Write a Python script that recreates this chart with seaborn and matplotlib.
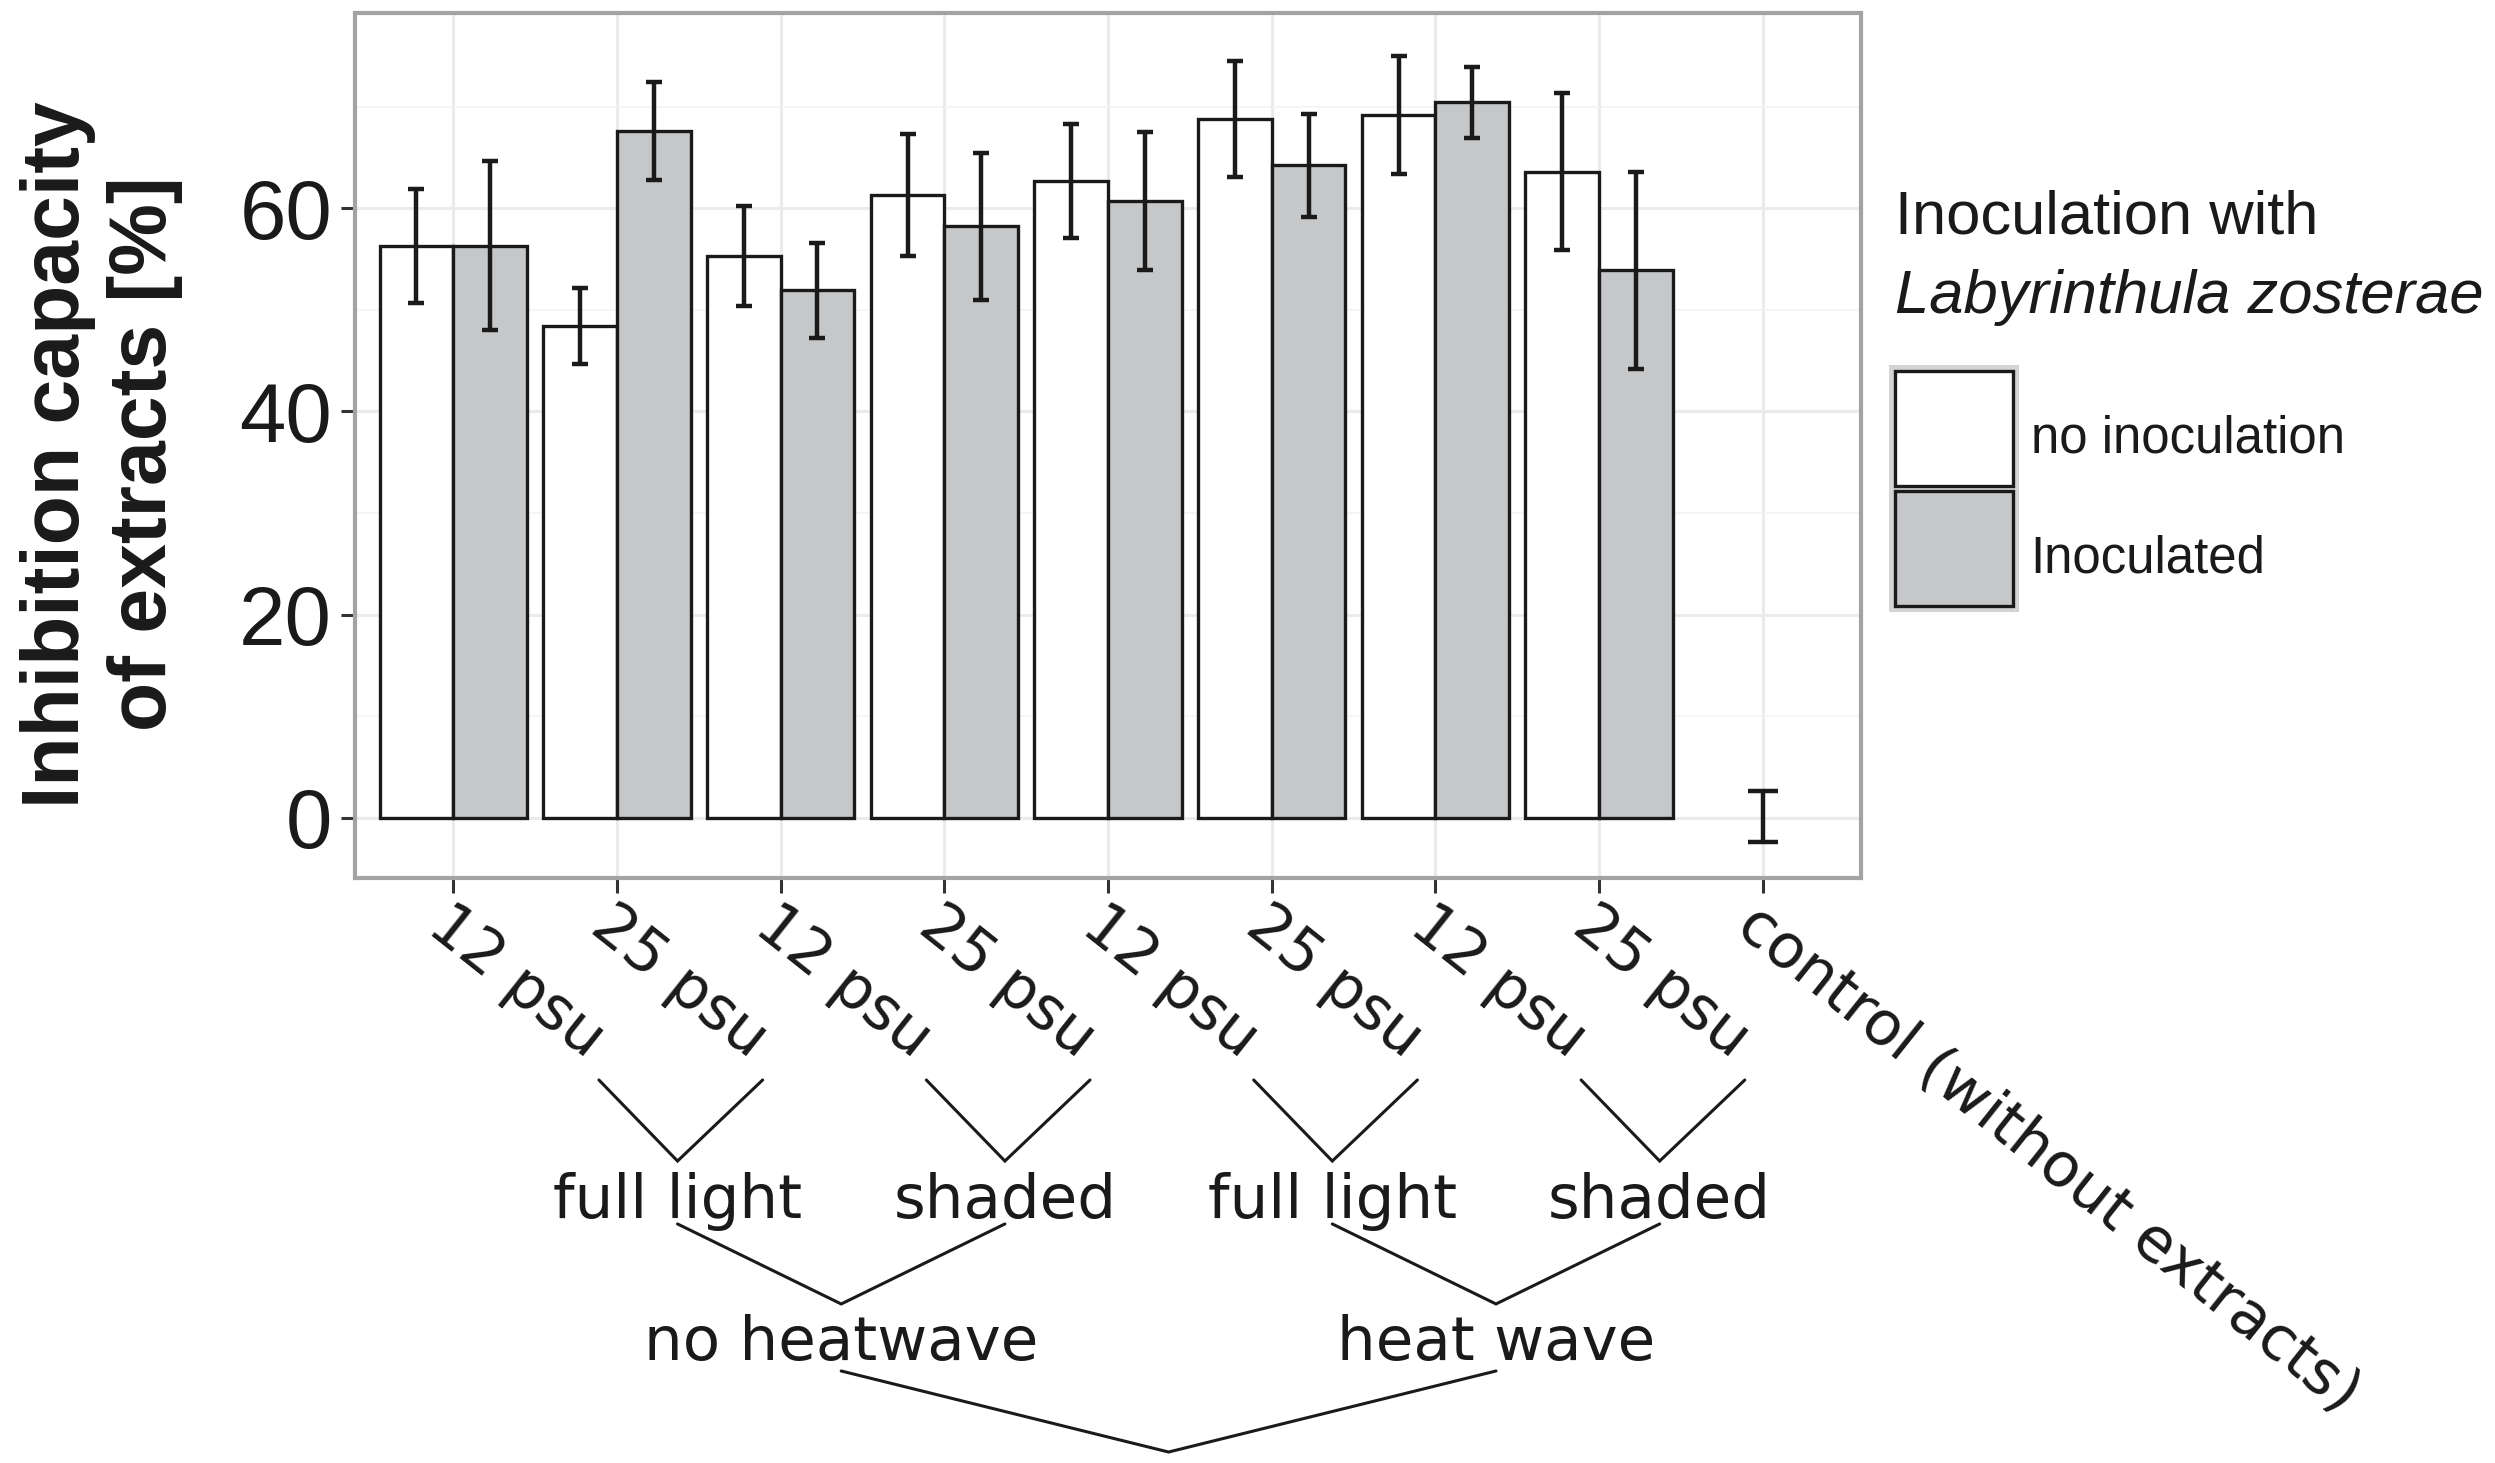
import matplotlib
matplotlib.use("Agg")
import matplotlib.pyplot as plt
import matplotlib.transforms as mtransforms
from matplotlib.patches import Rectangle
from matplotlib.container import BarContainer
import pandas as pd
import seaborn as sns

# x axis: treatment combinations (heat wave / light / salinity) + control
conditions = ["NH-FL-12", "NH-FL-25", "NH-SH-12", "NH-SH-25",
              "HW-FL-12", "HW-FL-25", "HW-SH-12", "HW-SH-25", "control"]
tick_labels = ["12 psu", "25 psu", "12 psu", "25 psu",
               "12 psu", "25 psu", "12 psu", "25 psu",
               "control (without extracts)"]
light_labels = ["full light", "shaded", "full light", "shaded"]
heat_labels = ["no heatwave", "heat wave"]

hue_levels = ["no inoculation", "Inoculated"]

# mean inhibition capacity [%] and error (half length of the bar)
no_inoc_mean = [56.3, 48.4, 55.3, 61.3, 62.7, 68.8, 69.2, 63.6]
no_inoc_err = [5.6, 3.7, 4.9, 6.0, 5.6, 5.7, 5.8, 7.7]
inoc_mean = [56.3, 67.6, 51.9, 58.2, 60.7, 64.2, 70.4, 53.9]
inoc_err = [8.3, 4.8, 4.7, 7.2, 6.8, 5.1, 3.5, 9.7]

control_mean = 0.15
control_err = 2.55

df = pd.DataFrame({
    "condition": conditions[:8] * 2,
    "inoculation": [hue_levels[0]] * 8 + [hue_levels[1]] * 8,
    "value": no_inoc_mean + inoc_mean,
    "err": no_inoc_err + inoc_err,
})

sns.set_theme(style="white")
plt.rcParams["font.family"] = ["Liberation Sans", "DejaVu Sans"]
txt_col = "#1a1a1a"

fig = plt.figure(figsize=(24.95, 14.63), dpi=100)
ax = fig.add_axes([0.1423, 0.3999, 0.6036, 0.5912])

sns.barplot(data=df, x="condition", y="value", hue="inoculation",
            order=conditions, hue_order=hue_levels,
            palette=["white", "#C6C7C9"], width=0.9, gap=0,
            errorbar=None, edgecolor=txt_col, linewidth=2.4,
            ax=ax, zorder=3)

bar_sets = [c for c in ax.containers if isinstance(c, BarContainer)]

# error bars on top of each bar
lookup = {(r.condition, r.inoculation): (r.value, r.err) for r in df.itertuples()}
for container, level in zip(bar_sets, hue_levels):
    for bar in container:
        xc = bar.get_x() + bar.get_width() / 2
        cond = conditions[int(round(xc))]
        m, e = lookup[(cond, level)]
        ax.errorbar(xc, m, yerr=e, fmt="none", ecolor=txt_col,
                    elinewidth=3.2, capsize=6, capthick=3.2, zorder=4)

ax.errorbar(conditions.index("control"), control_mean, yerr=control_err,
            fmt="none", ecolor=txt_col, elinewidth=3.2, capsize=11,
            capthick=3.2, zorder=4)

# axes, grid, frame
ax.set_xlim(-0.6, 8.6)
ax.set_ylim(-5.9, 79.2)
ax.set_yticks([0, 20, 40, 60])
ax.set_yticks([10, 30, 50, 70], minor=True)
ax.set_xticks(range(len(conditions)))
ax.set_xticklabels(tick_labels)
ax.set_axisbelow(True)
ax.grid(which="major", color="#EBEBEB", linewidth=2.2)
ax.grid(which="minor", axis="y", color="#F3F3F3", linewidth=1.2)
for sp in ax.spines.values():
    sp.set_color("#A3A3A3")
    sp.set_linewidth(3)

ax.tick_params(axis="y", which="major", length=10, width=2.2, color="#333333",
               pad=6.5, labelsize=60, labelcolor=txt_col, left=True)
ax.tick_params(axis="y", which="minor", left=False)
ax.tick_params(axis="x", length=11, width=2.2, color="#333333", pad=1,
               labelcolor=txt_col, bottom=True)
for lab in ax.get_xticklabels():
    lab.set_family("DejaVu Sans")
    lab.set_fontsize(44)
    lab.set_rotation(-38.5)
    lab.set_rotation_mode("anchor")
    lab.set_ha("left")
    lab.set_va("top")

ax.set_xlabel("")
ax.set_ylabel("Inhibition capacity\nof extracts [%]", fontsize=58,
              fontweight="bold", color=txt_col, linespacing=1.2)
ax.yaxis.set_label_coords(-0.114, 0.49)

# legend
if ax.get_legend() is not None:
    ax.get_legend().remove()
handles = [c.patches[0] for c in bar_sets]
leg = ax.legend(handles, hue_levels, loc="upper left",
                bbox_to_anchor=(0.7595, 0.7464), bbox_transform=fig.transFigure,
                frameon=False, fontsize=36.7, handlelength=2.31,
                handleheight=3.09, handletextpad=0.35, labelspacing=0.1,
                borderpad=0, borderaxespad=0)
# ggplot puts the labels a little below the key centres
nudge = mtransforms.ScaledTranslation(0, -0.09, fig.dpi_scale_trans)
for t in leg.get_texts():
    t.set_color(txt_col)
    t.set_transform(t.get_transform() + nudge)

fig.text(0.7595, 0.8401, "Inoculation with", fontsize=44.3, color=txt_col)
fig.text(0.7595, 0.7861, "Labyrinthula zosterae", fontsize=44.3,
         style="italic", color=txt_col)

# grey background behind the legend keys
fig.canvas.draw()
ext = [h.get_window_extent() for h in leg.legend_handles]
x0 = min(b.x0 for b in ext) - 6
x1 = max(b.x1 for b in ext) + 6
y0 = min(b.y0 for b in ext) - 6
y1 = max(b.y1 for b in ext) + 6
W, H = fig.bbox.width, fig.bbox.height
fig.patches.append(Rectangle((x0 / W, y0 / H), (x1 - x0) / W, (y1 - y0) / H,
                             transform=fig.transFigure, facecolor="#D4D4D4",
                             edgecolor="none", zorder=-1))

# nested grouping brackets under the tick labels
trans = mtransforms.blended_transform_factory(ax.transData, fig.transFigure)
line_kw = dict(color=txt_col, linewidth=2.2, transform=trans, clip_on=False,
               solid_joinstyle="miter")
shift = 0.87

light_x = []
for k, name in enumerate(light_labels):
    a, b = 2 * k, 2 * k + 1
    mid = (a + b) / 2 + shift
    ax.plot([a + 0.89, mid, b + 0.89], [0.2618, 0.2064, 0.2618], **line_kw)
    fig.text(mid, 0.1675, name, transform=trans, ha="center", va="baseline",
             fontsize=44, family="DejaVu Sans", color=txt_col)
    light_x.append(mid)

heat_x = []
for k, name in enumerate(heat_labels):
    a, b = light_x[2 * k], light_x[2 * k + 1]
    mid = (a + b) / 2
    ax.plot([a, mid, b], [0.1634, 0.1087, 0.1634], **line_kw)
    fig.text(mid, 0.0704, name, transform=trans, ha="center", va="baseline",
             fontsize=44, family="DejaVu Sans", color=txt_col)
    heat_x.append(mid)

ax.plot([heat_x[0], sum(heat_x) / 2, heat_x[1]], [0.0629, 0.0075, 0.0629],
        **line_kw)

fig.savefig("out.png", dpi=100, facecolor="white")
